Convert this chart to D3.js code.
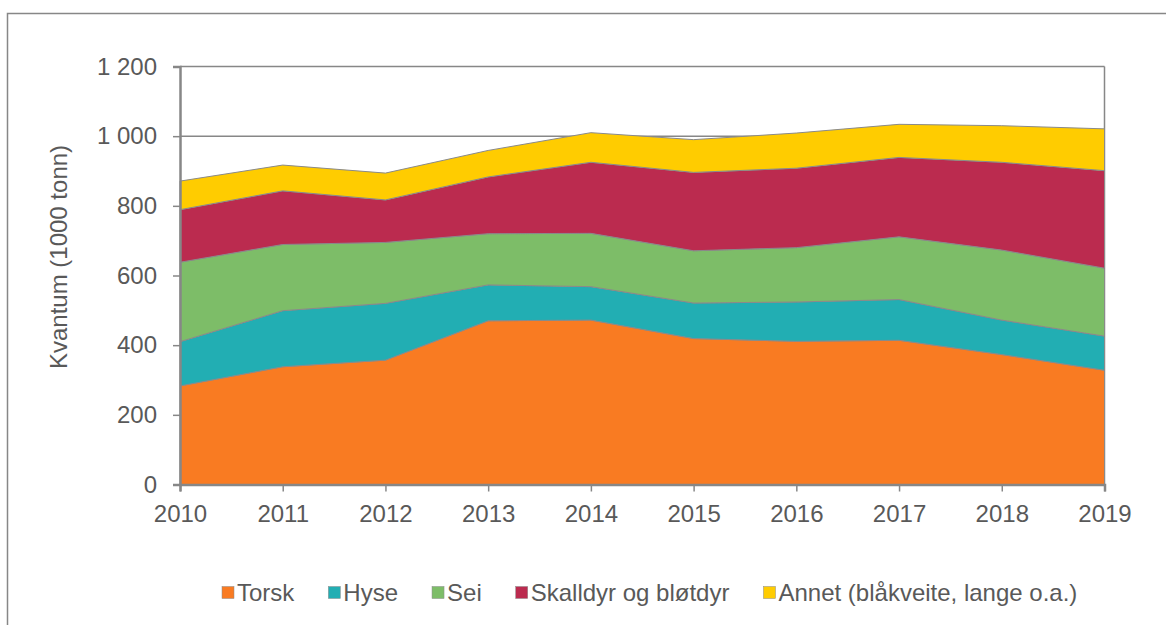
<!DOCTYPE html>
<html>
<head>
<meta charset="utf-8">
<script src="https://cdn.jsdelivr.net/npm/d3@7"></script>
<style>
  body { margin: 0; background: #fff; }
  text { font-family: "Liberation Sans", Arial, sans-serif; fill: #595959; }
</style>
</head>
<body>
<svg id="chart"></svg>
<script>
// chart values (1000 tonn)
var years = [2010, 2011, 2012, 2013, 2014, 2015, 2016, 2017, 2018, 2019];
var torsk    = [283, 338, 357, 470, 472, 419, 411, 414, 373, 328];
var hyse     = [127, 161, 163, 103,  96, 102, 113, 117,  99,  98];
var sei      = [228, 190, 175, 147, 153, 150, 156, 180, 201, 195];
var skalldyr = [151, 154, 122, 163, 204, 225, 228, 228, 252, 280];
var annet    = [ 82,  74,  77,  76,  85,  94, 101,  95, 105, 120];

var seriesNames = ["Torsk", "Hyse", "Sei", "Skalldyr og bløtdyr", "Annet (blåkveite, lange o.a.)"];
var colors = ["#f97b22", "#22aeb3", "#7dbd68", "#bb2b4f", "#ffcc00"];
var yTicks = [0, 200, 400, 600, 800, 1000, 1200];

var width = 1166, height = 625;
var plot = {left: 180, right: 1104.5, top: 66.5, bottom: 484.5};
var fontSize = "24px";

var svg = d3.select("#chart")
  .attr("width", width)
  .attr("height", height);

// outer frame (runs off the right and bottom of the picture)
svg.append("rect")
  .attr("x", 7.5).attr("y", 13.5)
  .attr("width", 1200).attr("height", 700)
  .style("fill", "none")
  .style("stroke", "#878787")
  .style("stroke-width", 1.5);

var x = d3.scaleLinear().domain([2010, 2019]).range([plot.left, plot.right]);
var y = d3.scaleLinear().domain([0, 1200]).range([plot.bottom, plot.top]);

// build rows for the stack
var rows = years.map(function(yr, i) {
  return {year: yr, 0: torsk[i], 1: hyse[i], 2: sei[i], 3: skalldyr[i], 4: annet[i]};
});
var layers = d3.stack().keys([0, 1, 2, 3, 4])(rows);

// gridlines
svg.append("g")
  .selectAll("line")
  .data(yTicks.slice(1))
  .enter().append("line")
    .attr("x1", plot.left).attr("x2", plot.right)
    .attr("y1", function(d) { return y(d); })
    .attr("y2", function(d) { return y(d); })
    .style("stroke", "#878787")
    .style("stroke-width", 1.5);

// plot area right edge
svg.append("line")
  .attr("x1", plot.right).attr("x2", plot.right)
  .attr("y1", plot.top).attr("y2", plot.bottom)
  .style("stroke", "#878787")
  .style("stroke-width", 1.5);

var area = d3.area()
  .x(function(d) { return x(d.data.year); })
  .y0(function(d) { return y(d[0]); })
  .y1(function(d) { return y(d[1]); });

svg.append("g")
  .selectAll("path")
  .data(layers)
  .enter().append("path")
    .attr("d", area)
    .style("fill", function(d, i) { return colors[i]; })
    .style("stroke", "#8a8a8a")
    .style("stroke-width", 1);

// y axis
var yAxis = svg.append("g")
  .attr("transform", "translate(" + plot.left + ",0)")
  .call(d3.axisLeft(y).tickValues(yTicks).tickSize(7).tickPadding(16)
    .tickFormat(function(d) { return d3.format(",")(d).replace(",", " "); }));

// x axis
var xAxis = svg.append("g")
  .attr("transform", "translate(0," + plot.bottom + ")")
  .call(d3.axisBottom(x).tickValues(years).tickSize(7).tickPadding(13)
    .tickFormat(d3.format("d")));

[yAxis, xAxis].forEach(function(ax) {
  ax.select(".domain").style("stroke", "#878787").style("stroke-width", 2.5);
  ax.selectAll(".tick line").style("stroke", "#878787").style("stroke-width", 1.5);
  ax.selectAll(".tick text")
    .style("font-size", fontSize)
    .style("fill", "#595959")
    .style("font-family", "'Liberation Sans', Arial, sans-serif");
});

// y axis title
svg.append("text")
  .attr("transform", "translate(67,257) rotate(-90)")
  .attr("text-anchor", "middle")
  .style("font-size", fontSize)
  .text("Kvantum (1000 tonn)");

// legend
var legend = svg.append("g").attr("transform", "translate(222,592.5)");
var lx = 0;
seriesNames.forEach(function(name, i) {
  var g = legend.append("g").attr("transform", "translate(" + lx + ",0)");
  g.append("rect")
    .attr("x", 0).attr("y", -6)
    .attr("width", 12).attr("height", 12)
    .style("fill", colors[i])
    .style("stroke", "#8a8a8a")
    .style("stroke-width", 0.5);
  var t = g.append("text")
    .attr("x", 15).attr("y", 8.5)
    .style("font-size", fontSize)
    .text(name);
  lx += 15 + t.node().getComputedTextLength() + 34;
});
</script>
</body>
</html>
